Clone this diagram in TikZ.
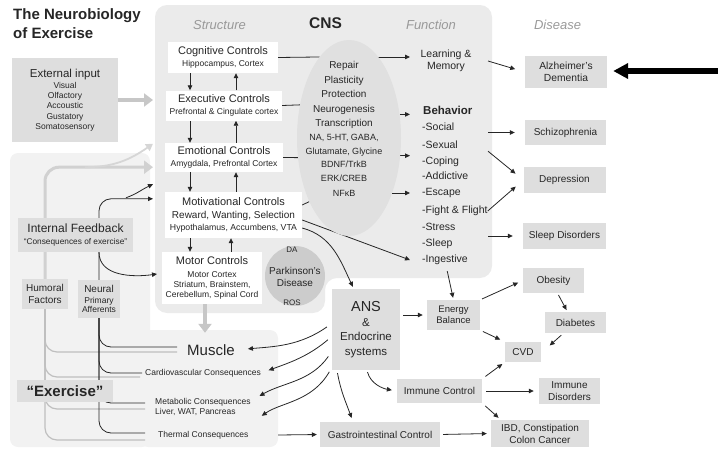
\documentclass[tikz,border=0pt]{standalone}
\usepackage{fontspec}
\setmainfont{Liberation Sans}
\usetikzlibrary{arrows.meta, calc, shapes.geometric}

\pgfdeclarelayer{panel}
\pgfdeclarelayer{wires}
\pgfsetlayers{panel,wires,main}

\newcommand{\fs}[2]{\fontsize{#1}{#2}\selectfont}

\begin{document}
\begin{tikzpicture}[x=1pt, y=-1pt,
    every node/.style={inner sep=0pt, align=center, text=black!85},
    ctrlbox/.style={rectangle, fill=white},
    greybox/.style={rectangle, fill=black!13},
    colhead/.style={font=\fs{13}{15}\itshape, text=black!40},
    bitem/.style={anchor=west, font=\fs{10.5}{12}, text height=7.5pt, text depth=2.5pt},
    arr/.style={draw=black!85, line width=0.8pt, -{Triangle[length=5pt,width=4.5pt]}},
    link/.style={draw=black!85, line width=0.8pt},
    fatarr/.style={draw=black!22, line width=4pt, -{Triangle[length=9pt,width=13pt]}},
    humline/.style={draw=black!25, line width=1.2pt, rounded corners=12pt},
    neuline/.style={draw=black!85, line width=0.8pt, rounded corners=12pt}
]
    \useasboundingbox (0,0) rectangle (718,450);

    % Background panels
    \begin{pgfonlayer}{panel}
        \fill[black!8, rounded corners=12pt] (155,5) -- (492,5) -- (492,278) -- (325,278) -- (325,313) -- (155,313) -- cycle;
        \node[rectangle, fill=black!5, rounded corners=8pt, minimum width=140pt, minimum height=294pt] (lpanel) at (80,300) {};
        \node[rectangle, fill=black!5, rounded corners=8pt, minimum width=138pt, minimum height=117pt] (mpanel) at (209,388.5) {};
    \end{pgfonlayer}

    % Title and column heads
    \node[anchor=north west, align=left, font=\fs{15}{19}\bfseries] (title) at (13,8) {The Neurobiology\\of Exercise};
    \node[colhead] (hstruct) at (219.5,25) {Structure};
    \node[font=\fs{15.5}{17}\bfseries] (hcns) at (325.5,23) {CNS};
    \node[colhead] (hfunc) at (431,25) {Function};
    \node[colhead] (hdis) at (557.5,25) {Disease};

    % Structure (Controls)
    \node[ctrlbox, minimum width=110pt, minimum height=31pt, font=\fs{8.5}{12}] (cog) at (223,57.5)
        {{\fs{11}{12}Cognitive Controls}\\Hippocampus, Cortex};
    \node[ctrlbox, minimum width=116pt, minimum height=30pt, font=\fs{8.5}{12}] (exec) at (224,105.5)
        {{\fs{11}{12}Executive Controls}\\Prefrontal \& Cingulate cortex};
    \node[ctrlbox, minimum width=118pt, minimum height=29pt, font=\fs{8.5}{12}] (emot) at (224,157.5)
        {{\fs{11}{12}Emotional Controls}\\Amygdala, Prefrontal Cortex};
    \node[ctrlbox, minimum width=137pt, minimum height=46pt, font=\fs{8.7}{11.5}] (motiv) at (233.5,215)
        {{\fs{11}{12}Motivational Controls}\\[1.5pt]{\fs{10}{12}Reward, Wanting, Selection}\\Hypothalamus, Accumbens, VTA};
    \node[ctrlbox, minimum width=100pt, minimum height=52pt, font=\fs{8.5}{10}] (motor) at (212,278)
        {{\fs{11}{12}Motor Controls}\\[3pt]Motor Cortex\\Striatum, Brainstem,\\Cerebellum, Spinal Cord};

    % Parkinson's
    \node[circle, fill=black!20, minimum size=60pt] (park) at (295,276) {};
    \node[font=\fs{8}{9}] (da) at (292,250) {DA};
    \node[font=\fs{10}{11.5}] (pdtext) at (295,277) {Parkinson's\\Disease};
    \node[font=\fs{8}{9}] (ros) at (292,303) {ROS};

    % Mechanisms
    \node[ellipse, fill=black!12, minimum width=104pt, minimum height=196pt] (ell) at (349,138) {};
    \node[font=\fs{10}{14.5}] (mech) at (344,95) {Repair\\Plasticity\\Protection\\Neurogenesis\\Transcription};
    \node[font=\fs{9}{13.5}] (chem) at (344,158) {NA, 5-HT, GABA,\\Glutamate, Glycine\\BDNF/TrkB\\ERK/CREB};
    \node[font=\fs{9}{11}] (nfkb) at (344,193) {NFκB};

    % Function
    \node[font=\fs{10.5}{12}] (lm) at (446,61) {Learning \&\\Memory};
    \node[anchor=west, font=\fs{11.5}{13}\bfseries] (behav) at (423,110) {Behavior};
    \node[bitem] (social) at (422,128) {-Social};
    \node[bitem] (sexual) at (422,146) {-Sexual};
    \node[bitem] (coping) at (422,162) {-Coping};
    \node[bitem] (addict) at (422,177) {-Addictive};
    \node[bitem] (escape) at (422,193) {-Escape};
    \node[bitem] (fight) at (422,211) {-Fight \& Flight};
    \node[bitem] (stress) at (422,228) {-Stress};
    \node[bitem] (sleep) at (422,244) {-Sleep};
    \node[bitem] (ingest) at (422,260) {-Ingestive};

    % Disease
    \node[greybox, minimum width=82pt, minimum height=32pt, font=\fs{10.3}{11.5}] (alz) at (566,72) {Alzheimer's\\Dementia};
    \node[greybox, minimum width=81pt, minimum height=25pt, font=\fs{10}{12}] (schiz) at (565.5,132.5) {Schizophrenia};
    \node[greybox, minimum width=82pt, minimum height=26pt, font=\fs{10}{12}] (depr) at (564.5,180) {Depression};
    \node[greybox, minimum width=83pt, minimum height=26pt, font=\fs{10}{12}] (sleepd) at (564.5,236) {Sleep Disorders};
    \node[greybox, minimum width=61pt, minimum height=25pt, font=\fs{10}{12}] (obes) at (553.5,280.5) {Obesity};
    \node[greybox, minimum width=61pt, minimum height=21pt, font=\fs{10}{12}] (diab) at (575.5,322.5) {Diabetes};
    \node[greybox, minimum width=36pt, minimum height=20pt, font=\fs{10}{12}] (cvd) at (523,352) {CVD};
    \node[greybox, minimum width=61pt, minimum height=26pt, font=\fs{10}{11.5}] (immd) at (569.5,391) {Immune\\Disorders};
    \node[greybox, minimum width=98pt, minimum height=27pt, font=\fs{10}{12}] (ibd) at (540,433.5) {IBD, Constipation\\Colon Cancer};

    % Periphery
    \node[greybox, minimum width=68pt, minimum height=81pt, font=\fs{11.5}{14.5}] (ans) at (366,329.5) {{\fs{14.5}{16}ANS}\\\&\\Endocrine\\systems};
    \node[greybox, minimum width=53pt, minimum height=30pt, font=\fs{9.5}{11}] (energy) at (453.5,315) {Energy\\Balance};
    \node[greybox, minimum width=85pt, minimum height=24pt, font=\fs{10}{12}] (immc) at (439.5,391) {Immune Control};
    \node[greybox, minimum width=120pt, minimum height=25pt, font=\fs{10}{12}] (gastro) at (380,434.5) {Gastrointestinal Control};

    % Muscle side
    \node[font=\fs{15}{17}] (muscle) at (211,350) {Muscle};
    \node[anchor=west, font=\fs{8.5}{10}] (cardio) at (145,373) {Cardiovascular Consequences};
    \node[anchor=west, align=left, font=\fs{8.5}{10}] (metab) at (155,407) {Metabolic Consequences\\Liver, WAT, Pancreas};
    \node[anchor=west, font=\fs{8.5}{10}] (thermal) at (158,435) {Thermal Consequences};

    % Inputs and feedback
    \node[greybox, minimum width=106pt, minimum height=84pt, font=\fs{8.5}{10.2}] (ext) at (65,100)
        {{\fs{11.5}{13}External input}\\[1pt]Visual\\Olfactory\\Accoustic\\Gustatory\\Somatosensory};
    \node[greybox, minimum width=115pt, minimum height=34pt, font=\fs{8.3}{12}] (ifb) at (75.5,235)
        {{\fs{12}{13}Internal Feedback}\\``Consequences of exercise''};
    \node[greybox, minimum width=46pt, minimum height=30pt, font=\fs{10}{12.5}] (hum) at (45,294) {Humoral\\Factors};
    \node[greybox, minimum width=42pt, minimum height=38pt, font=\fs{8.5}{9.5}] (neural) at (99,299)
        {{\fs{10}{11}Neural}\\[1.5pt]Primary\\Afferents};
    \node[greybox, minimum width=96pt, minimum height=22pt, font=\fs{15}{17}\bfseries] (exer) at (65,391) {``Exercise''};

    % Helper columns
    \coordinate (cnsw) at (153,0);
    \coordinate (dcol) at (190,0);
    \coordinate (ucol) at (236,0);
    \coordinate (fin) at (410,0);
    \coordinate (fout) at (488,0);
    \coordinate (pointer) at (718,71);

    % Connections
    \begin{pgfonlayer}{wires}
        \draw[arr] (dcol |- cog.south) -- (dcol |- exec.north);
        \draw[arr] (ucol |- exec.north) -- (ucol |- cog.south);
        \draw[arr] (dcol |- exec.south) -- (dcol |- emot.north);
        \draw[arr] (ucol |- emot.north) -- (ucol |- exec.south);
        \draw[arr] (dcol |- emot.south) -- (dcol |- motiv.north);
        \draw[arr] (ucol |- motiv.north) -- (ucol |- emot.south);
        \draw[arr] (dcol |- motiv.south) -- (dcol |- motor.north);
        \draw[arr] ([xshift=-5pt]ucol |- motor.north) -- ([xshift=-5pt]ucol |- motiv.south);

        \draw[link] (cog.east) -- (ell.110);
        \draw[link] (exec.east) -- (ell.146);
        \draw[link] (emot.east) -- (ell.201);
        \draw[link] ([yshift=10pt]motiv.east) -- (ell.238);

        \draw[arr] (da.south) -- (da |- pdtext.north);
        \draw[arr] (ros.north) -- (ros |- pdtext.south);

        \draw[arr] (ell.70) -- (ell.70 -| fin);
        \draw[arr] (ell.25) -- (ell.25 -| fin);
        \draw[arr] (ell.341) -- (ell.341 -| fin);
        \draw[arr] (nfkb.east) -- (fin |- escape.west);
        \draw[arr] ([yshift=-5pt]motiv.east) -- (fin |- ingest.west);
        \draw[arr] ([yshift=-13pt]motiv.east) to[out=-15, in=115] ($(ans.north west)+(21,-2)$);

        \draw[arr, shorten >=10pt] (fout |- lm) -- (alz.west);
        \draw[arr, shorten >=10pt] (fout |- schiz.west) -- (schiz.west);
        \draw[arr, shorten >=10pt] (fout |- sexual.south) -- (depr.west);
        \draw[arr, shorten >=10pt] (fight.east) -- (depr.west);
        \draw[arr, shorten >=10pt] (fout |- sleepd.west) -- (sleepd.west);
        \draw[draw=black, line width=5.5pt, -{Triangle[length=15pt,width=15pt]}] (pointer) -- ($(alz.east |- pointer)+(6,0)$);

        \draw[arr, shorten <=6pt, shorten >=2pt] ([xshift=1pt]ingest.south) -- (energy.north);
        \draw[arr, shorten <=3pt, shorten >=4pt] (ans.east |- energy.west) -- (energy.west);
        \draw[arr, shorten <=2pt, shorten >=5pt] (energy.north east) -- (obes.west);
        \draw[arr, shorten <=3pt, shorten >=5pt] (energy.south east) -- (cvd.north west);
        \draw[arr, shorten <=2pt, shorten >=2pt] ([xshift=4pt]obes.south) -- ([xshift=-8pt]diab.north);
        \draw[arr, shorten <=3pt, shorten >=2pt] ([xshift=-12pt]diab.south) -- ($(cvd.north east)+(7,5)$);
        \draw[arr, shorten <=4pt, shorten >=3pt] (immc.north east) -- (cvd.south west);
        \draw[arr, shorten <=4pt, shorten >=5pt] (immc.east) -- (immd.west);
        \draw[arr, shorten <=4pt, shorten >=3pt] (immc.south east) -- ([xshift=10pt]ibd.north west);
        \draw[arr, shorten <=3pt, shorten >=4pt] (gastro.east) -- (ibd.west);
        \draw[arr, shorten >=3pt] (mpanel.east |- thermal.east) -- (gastro.west);

        \draw[arr, shorten <=6pt, shorten >=13pt] ([yshift=6pt]ans.west) to[out=215, in=5] (muscle.east);
        \draw[arr, shorten <=5pt, shorten >=8pt] ([yshift=-7pt]ans.west) to[out=220, in=20] (cardio.east);
        \draw[arr, shorten <=6pt, shorten >=10pt] ([yshift=-22pt]ans.west) to[out=235, in=30] ([yshift=6pt]metab.east);
        \draw[arr, shorten <=5pt, shorten >=16pt] ([yshift=-38pt]ans.west) to[out=240, in=35] ([yshift=10pt]thermal.east);
        \draw[arr, shorten <=3pt, shorten >=4pt] ([xshift=-29pt]ans.south) to[out=-80, in=110] ([xshift=-27pt]gastro.north);
        \draw[arr, shorten <=2pt, shorten >=5pt] ([xshift=1pt]ans.south) to[out=-75, in=170] (immc.west);

        % grey inputs
        \draw[fatarr] (ext.east) -- (ext.east -| cnsw);
        \draw[fatarr, draw=black!18, line width=3pt, rounded corners=14pt] (hum.north) |- ($(cnsw |- emot.south)+(0,-5)$);
        \draw[draw=black!16, line width=1.8pt, -{Triangle[length=7pt,width=8pt]}] ($(hum.north |- emot.south)+(40,-5)$) to[out=0, in=215] ($(cnsw |- exec.south)+(0,23)$);
        \draw[fatarr] ([xshift=-7pt]motor.south) -- ($(motor.south |- mpanel.north)+(-7,3)$);

        % neural afferents up
        \draw[arr, rounded corners=12pt] (neural.north) |- ($(cnsw |- motiv.north)+(0,7)$);
        \draw[arr] ($(neural.north |- motiv.north)+(27,6)$) to[out=20, in=205] ($(cnsw |- emot.south)+(0,12)$);
        \draw[arr] (ifb.south -| neural.north) to[out=-90, in=188] ($(cnsw |- motor.west)+(4,-4)$);

        % humoral feedback from consequences
        \draw[humline] (hum.south) |- ($(muscle.west)+(-10,2)$);
        \draw[humline] (hum.south) |- ($(cardio.west)+(-5,4)$);
        \draw[humline] (hum.south) |- ($(metab.west)+(-10,2)$);
        \draw[humline] (hum.south) |- ($(thermal.west)+(-13,5)$);

        % neural feedback from consequences
        \draw[neuline] (neural.south) |- ($(muscle.west)+(-10,-3)$);
        \draw[neuline] (neural.south) |- ($(cardio.west)+(-3,0)$);
        \draw[neuline] (neural.south) |- ($(metab.west)+(-10,-4)$);
        \draw[neuline] (neural.south) |- ($(thermal.west)+(-13,-2)$);
    \end{pgfonlayer}
\end{tikzpicture}
\end{document}
